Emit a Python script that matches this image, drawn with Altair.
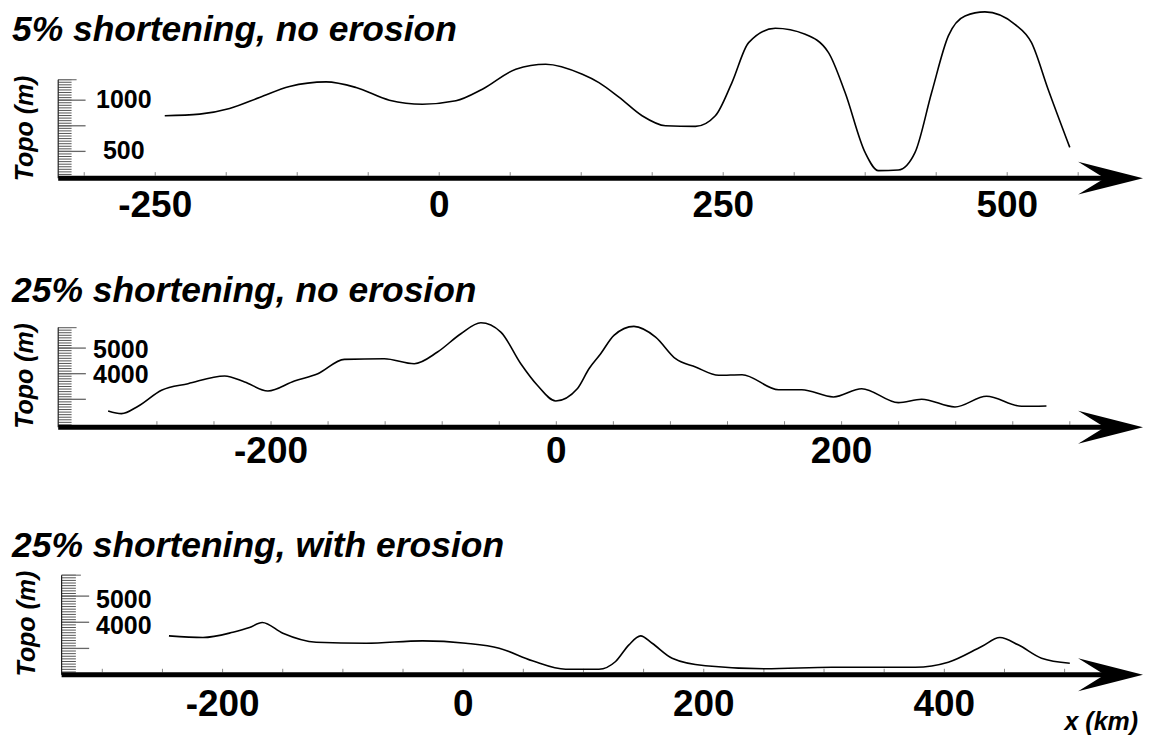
import altair as alt
import pandas as pd

FONT = "Liberation Sans"

# ---------------- data ----------------
titles = ["5% shortening, no erosion",
          "25% shortening, no erosion",
          "25% shortening, with erosion"]

# panel 1 : 5% shortening, no erosion
p1_x = [-241.6, -210.9, -184.5, -158.2, -131.8, -99.6, -73.2, -43.9, -14.7, 14.7,
        38.0, 67.4, 93.8, 126.0, 140.6, 158.2, 178.6, 199.2, 225.6, 243.1,
        257.7, 272.4, 295.9, 322.2, 342.7, 357.3, 374.9, 386.6, 404.2, 418.9,
        433.5, 448.2, 462.9, 480.4, 506.8, 521.4, 536.0, 555.1]
p1_y = [848, 864, 919, 1026, 1134, 1179, 1124, 1000, 961, 994,
        1107, 1302, 1351, 1253, 1172, 1030, 848, 750, 744, 848,
        1172, 1562, 1702, 1643, 1465, 1075, 490, 312, 318, 490,
        1075, 1628, 1823, 1862, 1741, 1562, 1107, 539]

# panel 2 : 25% shortening, no erosion
p2_x = [-314.2, -304.8, -293.2, -276.8, -258.2, -232.5, -218.5, -202.2, -183.6, -167.2,
        -148.6, -120.6, -99.6, -83.3, -66.9, -52.9, -38.9, -24.9, -13.3, -0.4,
        14.7, 22.9, 31.1, 40.4, 54.4, 69.6, 83.6, 97.6, 113.9, 130.2,
        155.8, 172.1, 194.3, 214.1, 239.8, 256.1, 279.5, 301.6, 326.1, 343.6]
p2_y = [2546, 2441, 2729, 3353, 3610, 3910, 3676, 3326, 3715, 4000,
        4561, 4585, 4390, 4846, 5560, 5988, 5626, 4390, 3548, 2936,
        3415, 4195, 4780, 5497, 5848, 5431, 4585, 4261, 3938, 3961,
        3376, 3376, 3092, 3415, 2869, 3002, 2702, 3119, 2729, 2741]

# panel 3 : 25% shortening, with erosion
p3_x = [-244.6, -216.3, -191.4, -177.6, -167.0, -149.9, -122.2, -80.7, -33.8, 2.2,
        29.9, 57.5, 85.2, 112.9, 126.7, 137.8, 147.5, 157.1, 173.7, 201.4,
        251.2, 306.5, 375.7, 403.3, 431.0, 446.2, 461.4, 480.8, 504.3]
p3_y = [3481, 3416, 3618, 3798, 3989, 3580, 3237, 3198, 3290, 3198,
        3008, 2527, 2206, 2206, 2500, 3137, 3481, 3198, 2626, 2336,
        2221, 2282, 2282, 2473, 3073, 3416, 3137, 2626, 2435]

# axis tick values / labels
p1_xlabels = [-250, 0, 250, 500]
p2_xlabels = [-200, 0, 200]
p3_xlabels = [-200, 0, 200, 400]
p1_ylabels = [1000, 500]
p2_ylabels = [5000, 4000]
p3_ylabels = [5000, 4000]
p1_ymajor = [500, 750, 1000]
p2_ymajor = [3000, 4000, 5000]
p3_ymajor = [3000, 4000, 5000]
p1_yminor = [250 + 25 * i for i in range(39)]     # 250 .. 1200
p2_yminor = [2000 + 100 * i for i in range(39)]   # 2000 .. 5800
p3_yminor = [2000 + 100 * i for i in range(39)]
p1_xminor = [-312.5 + 62.5 * i for i in range(15)]
p2_xminor = [-280 + 40 * i for i in range(17)]
p3_xminor = [-300 + 50 * i for i in range(17)]

ARROW = "M -1 -0.508 L 1 0 L -1 0.508 L -0.18 0 Z"
W = 1135


def panel(cfg):
    xs = alt.Scale(domain=cfg["xdom"], nice=False, zero=False)
    ys = alt.Scale(domain=cfg["ydom"], nice=False, zero=False)
    ay = cfg["axis_y"]
    rl = cfg["ruler_left"]

    line = alt.Chart(pd.DataFrame({"x": cfg["x"], "y": cfg["y"]})).mark_line(
        color="black", strokeWidth=1.6, interpolate="monotone"
    ).encode(
        x=alt.X("x:Q", scale=xs, axis=None),
        y=alt.Y("y:Q", scale=ys, axis=None),
        order="x:Q",
    )

    # ruler (dense minor ticks)
    minor = alt.Chart(pd.DataFrame({"v": cfg["yminor"]})).mark_rule(
        color="#555", strokeWidth=1
    ).encode(
        y=alt.Y("v:Q", scale=ys, axis=None),
        x=alt.value(rl), x2=alt.value(rl + cfg["minor_len"]),
    )
    top = alt.Chart(pd.DataFrame({"v": [max(cfg["yminor"])]})).mark_rule(
        color="#777", strokeWidth=1.2
    ).encode(
        y=alt.Y("v:Q", scale=ys, axis=None),
        x=alt.value(rl), x2=alt.value(rl + cfg["minor_len"] + 5),
    )
    major = alt.Chart(pd.DataFrame({"v": cfg["ymajor"]})).mark_rule(
        color="#666", strokeWidth=1.3
    ).encode(
        y=alt.Y("v:Q", scale=ys, axis=None),
        x=alt.value(rl), x2=alt.value(rl + cfg["major_len"]),
    )
    vline = alt.Chart(pd.DataFrame({"v": [max(cfg["yminor"])]})).mark_rule(
        color="#222", strokeWidth=1.2
    ).encode(
        y=alt.Y("v:Q", scale=ys, axis=None),
        y2=alt.value(ay),
        x=alt.value(rl),
    )
    ylab = alt.Chart(pd.DataFrame({"v": cfg["ylabels"],
                                   "s": [str(v) for v in cfg["ylabels"]]})).mark_text(
        font=FONT, fontSize=25, fontWeight="bold", color="black",
        align="center", baseline="middle", dy=cfg["ylab_dy"]
    ).encode(
        y=alt.Y("v:Q", scale=ys, axis=None),
        x=alt.value(cfg["ylab_x"]),
        text="s:N",
    )

    # x axis with arrow
    xaxis = alt.Chart(pd.DataFrame({"a": [0]})).mark_rule(
        color="black", strokeWidth=5
    ).encode(
        x=alt.value(rl), x2=alt.value(1100), y=alt.value(ay),
    )
    arrow = alt.Chart(pd.DataFrame({"a": [0]})).mark_point(
        shape=ARROW, size=4225, filled=True, color="black", opacity=1, strokeWidth=0
    ).encode(
        x=alt.value(1104.5), y=alt.value(ay),
    )
    xminor = alt.Chart(pd.DataFrame({"v": cfg["xminor"]})).mark_rule(
        color="#888", strokeWidth=1
    ).encode(
        x=alt.X("v:Q", scale=xs, axis=None),
        y=alt.value(ay - 6), y2=alt.value(ay - 2.5),
    )
    xlab = alt.Chart(pd.DataFrame({"v": cfg["xlabels"],
                                   "s": [str(v) for v in cfg["xlabels"]]})).mark_text(
        font=FONT, fontSize=37, fontWeight="bold", color="black",
        align="center", baseline="alphabetic"
    ).encode(
        x=alt.X("v:Q", scale=xs, axis=None),
        y=alt.value(cfg["xlab_y"]),
        text="s:N",
    )

    title = alt.Chart(pd.DataFrame({"t": [cfg["title"]]})).mark_text(
        font=FONT, fontSize=35.5, fontWeight="bold", fontStyle="italic",
        color="black", align="left", baseline="alphabetic"
    ).encode(
        x=alt.value(4), y=alt.value(cfg["title_y"]), text="t:N",
    )
    topo = alt.Chart(pd.DataFrame({"t": ["Topo (m)"]})).mark_text(
        font=FONT, fontSize=25, fontWeight="bold", fontStyle="italic",
        color="black", align="center", baseline="alphabetic", angle=270
    ).encode(
        x=alt.value(cfg["topo_x"]), y=alt.value(cfg["topo_y"]), text="t:N",
    )

    layers = [minor, top, major, vline, ylab, xminor, xaxis, arrow, xlab,
              line, title, topo]
    if cfg.get("xunit"):
        layers.append(
            alt.Chart(pd.DataFrame({"t": [cfg["xunit"]]})).mark_text(
                font=FONT, fontSize=25, fontWeight="bold", fontStyle="italic",
                color="black", align="right", baseline="alphabetic"
            ).encode(x=alt.value(1132), y=alt.value(221), text="t:N")
        )
    return alt.layer(*layers).properties(width=W, height=cfg["h"])


cfgs = [
    dict(x=p1_x, y=p1_y, title=titles[0], h=250,
         xdom=[-379.6, 617.8], ydom=[-562.4, 1874.3], axis_y=167.8,
         ruler_left=50.3, minor_len=13.4, major_len=27.4,
         yminor=p1_yminor, ymajor=p1_ymajor, ylabels=p1_ylabels,
         ylab_x=116, ylab_dy=0, xminor=p1_xminor, xlabels=p1_xlabels,
         xlab_y=206.8, title_y=30.3, topo_x=25, topo_y=118),
    dict(x=p2_x, y=p2_y, title=titles[1], h=250,
         xdom=[-384.4, 409.9], ydom=[-1313.8, 8432.7], axis_y=167.3,
         ruler_left=50.3, minor_len=13.4, major_len=27.7,
         yminor=p2_yminor, ymajor=p2_ymajor, ylabels=p2_ylabels,
         ylab_x=113, ylab_dy=1.5, xminor=p2_xminor, xlabels=p2_xlabels,
         xlab_y=203.5, title_y=41.5, topo_x=25, topo_y=116),
    dict(x=p3_x, y=p3_y, title=titles[2], h=226,
         xdom=[-378.4, 563.5], ydom=[-324.4, 8301.5], axis_y=165.3,
         ruler_left=53.7, minor_len=14.3, major_len=27.6,
         yminor=p3_yminor, ymajor=p3_ymajor, ylabels=p3_ylabels,
         ylab_x=116, ylab_dy=4, xminor=p3_xminor, xlabels=p3_xlabels,
         xlab_y=207, title_y=47, topo_x=27, topo_y=114, xunit="x (km)"),
]

chart = alt.vconcat(*[panel(c) for c in cfgs], spacing=0).properties(
    padding=0, background="white"
).configure_view(stroke=None)

chart.save("out.html", embed_options={"renderer": "svg", "actions": False})
